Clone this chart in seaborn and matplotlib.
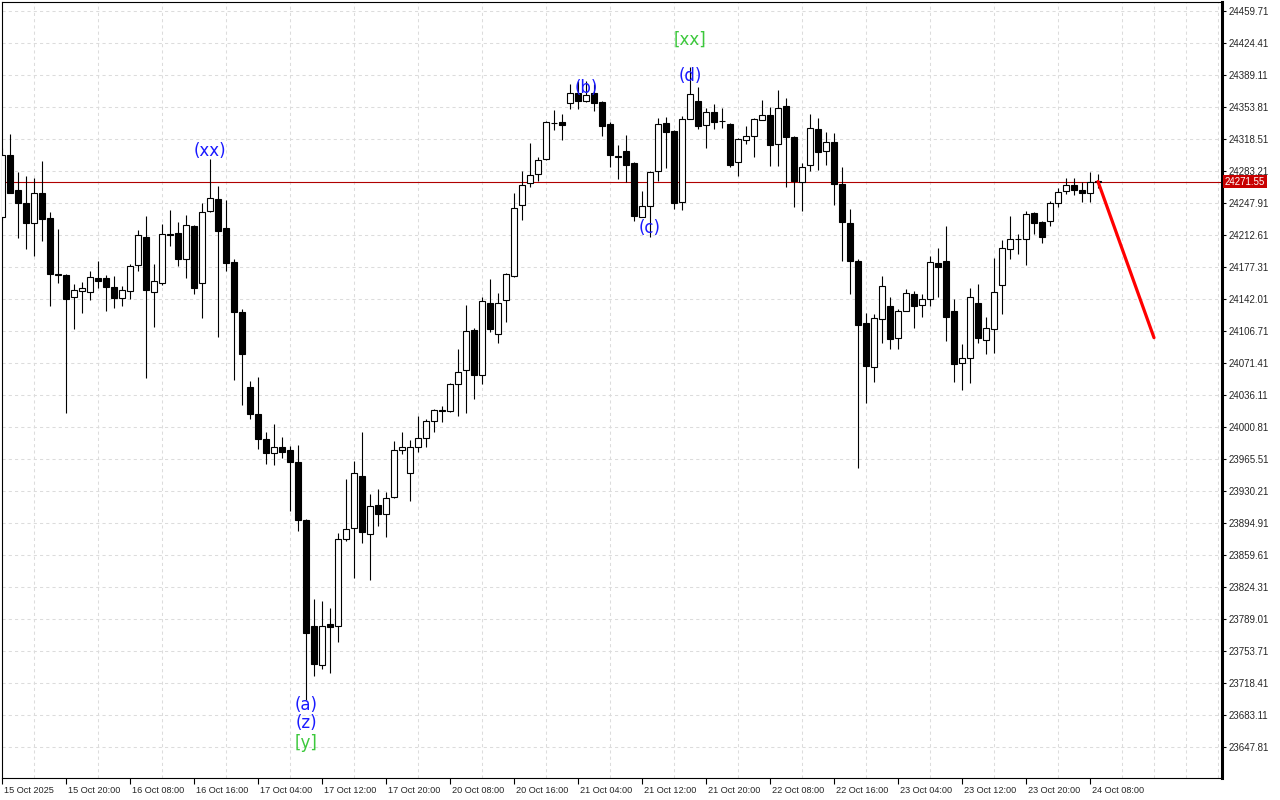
import numpy as np
import pandas as pd
import matplotlib
matplotlib.use("Agg")
import matplotlib.pyplot as plt
import matplotlib.transforms as mtransforms
import seaborn as sns

# OHLC values, one entry per bar (oldest first)
opens = [
    24232.5, 24300.8, 24262.2, 24247.9, 24225.8, 24258.9, 24231.3, 24169.6, 24168.5, 24144.2,
    24150.8, 24149.7, 24165.1, 24165.1, 24155.2, 24143.1, 24150.8, 24179.5, 24210.4, 24149.7,
    24159.6, 24213.7, 24214.8, 24186.1, 24222.5, 24159.6, 24239.6, 24251.8, 24220.3, 24182.8,
    24127.1, 24044.9, 24014.6, 23987.5, 23972.1, 23978.7, 23975.0, 23962.2, 23898.2, 23781.3,
    23737.7, 23783.5, 23781.3, 23877.2, 23889.4, 23946.7, 23882.7, 23914.7, 23904.8, 23923.6,
    23975.4, 23950.0, 23978.7, 23988.6, 24007.4, 24019.0, 24018.4, 24048.2, 24063.7, 24107.8,
    24058.1, 24137.6, 24103.4, 24140.9, 24167.3, 24245.7, 24269.9, 24279.9, 24296.4, 24336.3,
    24337.2, 24358.2, 24369.2, 24360.4, 24369.2, 24359.3, 24335.0, 24299.2, 24305.2, 24292.0,
    24232.8, 24244.6, 24283.2, 24336.1, 24327.3, 24249.3, 24340.5, 24360.4, 24333.9, 24348.3,
    24338.6, 24335.0, 24293.1, 24317.4, 24321.8, 24339.4, 24344.9, 24313.0, 24354.9, 24320.7,
    24271.0, 24289.8, 24329.5, 24305.2, 24315.2, 24268.8, 24225.8, 24183.9, 24115.5, 24067.0,
    24120.2, 24134.3, 24098.6, 24128.7, 24147.5, 24135.4, 24142.0, 24181.7, 24183.9, 24128.7,
    24071.4, 24076.9, 24137.6, 24096.4, 24108.6, 24157.4, 24196.8, 24208.7, 24207.8, 24236.8,
    24226.9, 24227.7, 24247.5, 24260.8, 24267.7, 24261.9, 24258.6, 24272.1,
]
highs = [
    24308.6, 24324.0, 24282.1, 24277.7, 24275.5, 24294.2, 24237.9, 24219.2, 24169.5, 24158.5,
    24160.7, 24172.9, 24183.9, 24168.5, 24167.3, 24156.3, 24180.6, 24218.1, 24233.5, 24180.6,
    24224.7, 24240.2, 24226.9, 24234.6, 24223.5, 24247.9, 24296.4, 24266.6, 24251.2, 24186.1,
    24130.9, 24051.5, 24055.9, 23995.3, 24004.1, 23989.8, 23979.3, 23980.9, 23899.0, 23811.0,
    23809.3, 23801.1, 23883.9, 23943.4, 23963.3, 23995.3, 23926.9, 23932.4, 23929.1, 23985.3,
    23995.3, 23986.4, 24012.9, 24009.6, 24020.6, 24023.9, 24049.0, 24086.8, 24135.4, 24110.0,
    24144.2, 24164.0, 24148.6, 24170.5, 24258.9, 24283.2, 24314.1, 24298.6, 24338.3, 24350.5,
    24346.1, 24379.1, 24382.5, 24382.5, 24379.1, 24360.4, 24337.2, 24311.9, 24322.9, 24293.0,
    24261.1, 24283.0, 24341.6, 24342.7, 24328.3, 24343.8, 24397.9, 24375.8, 24353.0, 24357.1,
    24352.7, 24336.1, 24319.9, 24332.8, 24341.6, 24361.5, 24354.1, 24372.5, 24363.7, 24321.8,
    24292.0, 24346.1, 24341.6, 24326.2, 24325.1, 24287.6, 24241.3, 24186.4, 24126.5, 24125.4,
    24167.3, 24144.2, 24131.3, 24153.0, 24150.8, 24147.5, 24189.4, 24198.2, 24222.5, 24142.0,
    24092.3, 24154.1, 24158.5, 24122.1, 24187.2, 24207.1, 24233.5, 24213.7, 24239.1, 24237.9,
    24227.9, 24250.1, 24264.4, 24275.5, 24275.5, 24271.4, 24282.1, 24279.9,
]
lows = [
    24229.1, 24258.9, 24209.3, 24197.1, 24189.4, 24206.0, 24134.3, 24159.6, 24016.2, 24108.9,
    24126.5, 24140.9, 24154.1, 24128.7, 24132.0, 24134.3, 24142.0, 24172.9, 24054.8, 24111.1,
    24157.4, 24200.4, 24178.4, 24165.1, 24147.5, 24121.0, 24238.3, 24100.5, 24172.9, 24052.1,
    24025.5, 24009.6, 23976.5, 23960.5, 23959.2, 23966.6, 23908.1, 23886.1, 23699.6, 23725.6,
    23734.3, 23729.4, 23763.6, 23875.0, 23833.7, 23872.8, 23831.5, 23892.1, 23879.9, 23922.5,
    23971.0, 23919.5, 23973.2, 23978.7, 23995.3, 24006.3, 24017.3, 24012.9, 24016.2, 24031.7,
    24048.2, 24105.6, 24093.4, 24116.6, 24166.3, 24229.1, 24265.5, 24272.1, 24295.3, 24328.4,
    24317.4, 24351.6, 24351.6, 24359.5, 24349.4, 24321.8, 24287.6, 24274.7, 24271.0, 24228.0,
    24232.4, 24210.7, 24272.1, 24286.8, 24241.6, 24240.2, 24340.0, 24329.8, 24308.9, 24329.8,
    24330.9, 24287.9, 24277.3, 24313.0, 24298.9, 24338.9, 24289.0, 24289.0, 24265.9, 24243.8,
    24239.4, 24283.5, 24284.3, 24290.1, 24246.0, 24184.2, 24147.8, 23955.2, 24027.6, 24050.8,
    24093.8, 24086.8, 24087.2, 24128.2, 24110.3, 24122.5, 24134.6, 24144.5, 24096.0, 24050.8,
    24041.9, 24049.6, 24093.8, 24081.0, 24082.7, 24125.8, 24186.4, 24191.3, 24179.2, 24214.0,
    24204.1, 24222.8, 24243.8, 24258.1, 24257.0, 24249.0, 24249.0, 24264.1,
]
closes = [
    24300.8, 24258.9, 24247.9, 24225.8, 24258.9, 24230.2, 24169.6, 24168.5, 24142.0, 24151.9,
    24154.1, 24166.2, 24161.8, 24155.2, 24143.1, 24151.9, 24178.4, 24212.6, 24151.9, 24161.8,
    24213.7, 24213.1, 24186.1, 24223.6, 24154.1, 24237.9, 24253.9, 24217.3, 24182.0, 24127.1,
    24080.9, 24015.5, 23987.5, 23972.1, 23978.7, 23973.2, 23962.2, 23898.2, 23773.1, 23739.3,
    23781.3, 23780.2, 23877.2, 23888.3, 23950.0, 23885.0, 23913.6, 23904.8, 23922.5, 23975.4,
    23978.7, 23978.7, 23988.6, 24007.4, 24019.5, 24018.4, 24048.2, 24061.5, 24106.7, 24058.1,
    24139.8, 24108.9, 24137.6, 24169.6, 24242.4, 24267.7, 24278.8, 24295.3, 24337.2, 24335.9,
    24333.9, 24369.2, 24360.4, 24367.0, 24358.2, 24332.8, 24300.8, 24298.6, 24290.1, 24233.9,
    24244.6, 24282.1, 24335.0, 24326.5, 24247.9, 24340.5, 24368.1, 24332.8, 24348.3, 24337.6,
    24338.1, 24289.8, 24318.5, 24321.8, 24340.5, 24344.9, 24312.2, 24352.7, 24320.7, 24272.5,
    24287.6, 24330.6, 24304.5, 24315.2, 24269.2, 24227.2, 24183.9, 24113.6, 24068.4, 24121.0,
    24156.3, 24098.2, 24129.1, 24148.6, 24134.6, 24142.0, 24182.8, 24177.3, 24122.5, 24069.9,
    24076.9, 24144.2, 24098.6, 24110.3, 24150.0, 24198.2, 24208.5, 24208.2, 24235.7, 24225.5,
    24210.0, 24247.9, 24260.3, 24267.7, 24261.9, 24258.6, 24271.0, 24271.55,
]

# axis labels
time_labels = [
    "15 Oct 2025", "15 Oct 20:00", "16 Oct 08:00", "16 Oct 16:00", "17 Oct 04:00",
    "17 Oct 12:00", "17 Oct 20:00", "20 Oct 08:00", "20 Oct 16:00", "21 Oct 04:00",
    "21 Oct 12:00", "21 Oct 20:00", "22 Oct 08:00", "22 Oct 16:00", "23 Oct 04:00",
    "23 Oct 12:00", "23 Oct 20:00", "24 Oct 08:00",
]
price_ticks = [
    24459.71, 24424.41, 24389.11, 24353.81, 24318.51, 24283.21, 24247.91, 24212.61,
    24177.31, 24142.01, 24106.71, 24071.41, 24036.11, 24000.81, 23965.51, 23930.21,
    23894.91, 23859.61, 23824.31, 23789.01, 23753.71, 23718.41, 23683.11, 23647.81,
]

# forecast arrow (bar index, price)
forecast_bar = [137, 144]
forecast_price = [24271.55, 24099.3]

# wave labels
wave_text = ["(xx)", "(a)", "(z)", "[y]", "(b)", "(c)", "(d)", "[xx]"]
wave_bar = [26, 38, 38, 38, 73, 81, 86, 86]
wave_anchor = ["high", "low", "low", "low", "high", "low", "high", "high"]
wave_offset = [6.0, -3.6, -16.6, -31.0, -5.0, 6.3, -6.5, 19.4]
wave_color = ["#1a1aff", "#1a1aff", "#1a1aff", "#3cc83c", "#1a1aff", "#1a1aff", "#1a1aff", "#3cc83c"]

df = pd.DataFrame({"open": opens, "high": highs, "low": lows, "close": closes})
df["bar"] = np.arange(len(df))
df["up"] = df["close"] >= df["open"]
df["body_low"] = df[["open", "close"]].min(axis=1)
df["body_h"] = (df["close"] - df["open"]).abs().clip(lower=0.4)

sns.set_theme(style="white")
plt.rcParams["font.family"] = ["DejaVu Sans"]

fig = plt.figure(figsize=(12.8, 8), dpi=100)
ax = fig.add_axes([2 / 1280, 22 / 800, 1220 / 1280, 776 / 800])

# candles
ax.vlines(df["bar"], df["low"], df["high"], color="black", linewidth=0.8, zorder=2)
ax.bar(df["bar"], df["body_h"], bottom=df["body_low"], width=0.66,
       color=np.where(df["up"], "white", "black"), edgecolor="black",
       linewidth=0.8, zorder=3)

# last price line
last_price = closes[-1]
ax.axhline(last_price, color="#b00000", linewidth=0.8, zorder=1.8)

# forecast
sns.lineplot(x=forecast_bar, y=forecast_price, ax=ax, color="#ff0000",
             linewidth=2.3, zorder=4)

# wave labels
for txt, b, anc, off, col in zip(wave_text, wave_bar, wave_anchor, wave_offset, wave_color):
    ax.annotate(txt, xy=(b, df.loc[b, anc]), xytext=(0, off), textcoords="offset points",
                ha="center", va="center", fontsize=12, color=col, zorder=5)

ax.set_xlim(0, 152.5)
ax.set_ylim(23613.6, 24469.6)

# grid
ax.set_axisbelow(True)
ax.set_xticks(np.arange(0, 153, 4), minor=True)
ax.grid(False)
ax.grid(True, which="minor", axis="x", color="#dcdcdc", linestyle=(0, (3, 3)), linewidth=0.75)
ax.grid(True, which="major", axis="y", color="#dcdcdc", linestyle=(0, (3, 3)), linewidth=0.75)

# x axis
ax.set_xticks(np.arange(0, 8 * len(time_labels), 8))
ax.set_xticklabels(time_labels, fontfamily="Liberation Sans", fontsize=6.6)
ax.tick_params(axis="x", which="major", bottom=True, length=4, width=0.8, pad=1.5, color="black")
ax.tick_params(axis="x", which="minor", bottom=False, length=0)
shift = mtransforms.ScaledTranslation(1.5 / 72, 0, fig.dpi_scale_trans)
for lbl in ax.get_xticklabels():
    lbl.set_ha("left")
    lbl.set_transform(lbl.get_transform() + shift)

# y axis on the right
ax.yaxis.tick_right()
ax.set_yticks(price_ticks)
ax.set_yticklabels([f"{v:.2f}" for v in price_ticks], fontfamily="Liberation Sans", fontsize=7)
ax.tick_params(axis="y", which="major", right=True, left=False, length=3, width=0.8,
               pad=1.5, color="black")

for side in ["left", "top", "bottom"]:
    ax.spines[side].set_color("black")
    ax.spines[side].set_linewidth(0.8)
ax.spines["right"].set_color("black")
ax.spines["right"].set_linewidth(2.2)

# price tag
tag_tr = mtransforms.blended_transform_factory(ax.transAxes, ax.transData)
ax.text(1.0 + 3 / 1220, last_price, f"{last_price:.2f}", transform=tag_tr,
        ha="left", va="center", fontsize=7, fontfamily="Liberation Sans", color="white",
        bbox=dict(boxstyle="square,pad=0.2", fc="#c80000", ec="none"),
        zorder=10, clip_on=False)

fig.savefig("out.png", dpi=100)
plt.close(fig)
